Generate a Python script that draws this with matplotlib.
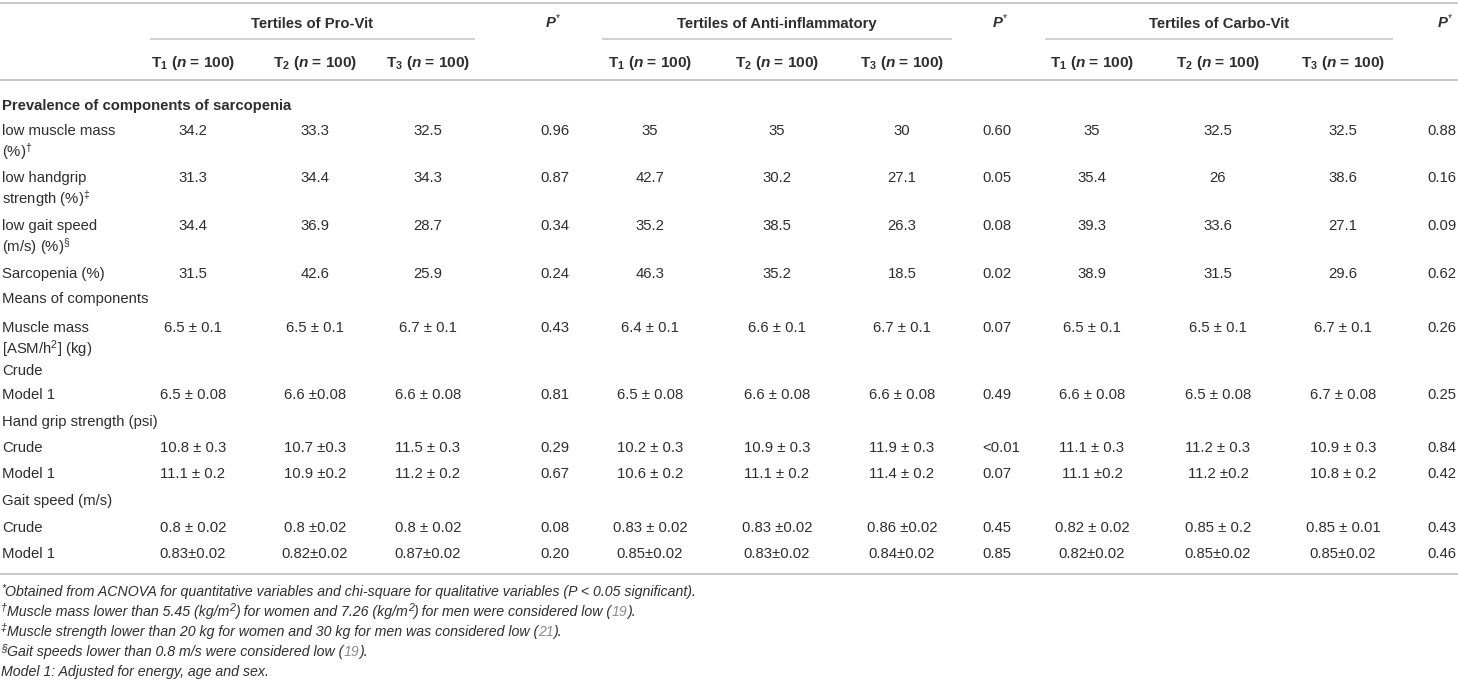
import matplotlib
matplotlib.use("Agg")
import matplotlib.pyplot as plt

plt.rcParams['font.family'] = ['Liberation Sans', 'DejaVu Sans']
plt.rcParams['mathtext.fontset'] = 'custom'
plt.rcParams['mathtext.rm'] = 'Liberation Sans'
plt.rcParams['mathtext.it'] = 'Liberation Sans:italic:bold'
plt.rcParams['mathtext.bf'] = 'Liberation Sans:bold'

# Table content
groups = ["Tertiles of Pro-Vit", "Tertiles of Anti-inflammatory", "Tertiles of Carbo-Vit"]
tertiles = ["1", "2", "3"]
groupSize = 100

rowLabels = [
    ["Prevalence of components of sarcopenia"],
    ["low muscle mass", r"(%)$^{\dagger}$"],
    ["low handgrip", r"strength (%)$^{\ddagger}$"],
    ["low gait speed", r"(m/s) (%)$^{\S}$"],
    ["Sarcopenia (%)"],
    ["Means of components"],
    ["Muscle mass", r"[ASM/h$^{2}$] (kg)", "Crude"],
    ["Model 1"],
    ["Hand grip strength (psi)"],
    ["Crude"],
    ["Model 1"],
    ["Gait speed (m/s)"],
    ["Crude"],
    ["Model 1"],
]
boldRows = [0]

proVit = [
    None,
    ["34.2", "33.3", "32.5"],
    ["31.3", "34.4", "34.3"],
    ["34.4", "36.9", "28.7"],
    ["31.5", "42.6", "25.9"],
    None,
    ["6.5 ± 0.1", "6.5 ± 0.1", "6.7 ± 0.1"],
    ["6.5 ± 0.08", "6.6 ±0.08", "6.6 ± 0.08"],
    None,
    ["10.8 ± 0.3", "10.7 ±0.3", "11.5 ± 0.3"],
    ["11.1 ± 0.2", "10.9 ±0.2", "11.2 ± 0.2"],
    None,
    ["0.8 ± 0.02", "0.8 ±0.02", "0.8 ± 0.02"],
    ["0.83±0.02", "0.82±0.02", "0.87±0.02"],
]
proVitP = [None, "0.96", "0.87", "0.34", "0.24", None, "0.43", "0.81", None, "0.29", "0.67", None, "0.08", "0.20"]

antiInflammatory = [
    None,
    ["35", "35", "30"],
    ["42.7", "30.2", "27.1"],
    ["35.2", "38.5", "26.3"],
    ["46.3", "35.2", "18.5"],
    None,
    ["6.4 ± 0.1", "6.6 ± 0.1", "6.7 ± 0.1"],
    ["6.5 ± 0.08", "6.6 ± 0.08", "6.6 ± 0.08"],
    None,
    ["10.2 ± 0.3", "10.9 ± 0.3", "11.9 ± 0.3"],
    ["10.6 ± 0.2", "11.1 ± 0.2", "11.4 ± 0.2"],
    None,
    ["0.83 ± 0.02", "0.83 ±0.02", "0.86 ±0.02"],
    ["0.85±0.02", "0.83±0.02", "0.84±0.02"],
]
antiInflammatoryP = [None, "0.60", "0.05", "0.08", "0.02", None, "0.07", "0.49", None, "<0.01", "0.07", None, "0.45", "0.85"]

carboVit = [
    None,
    ["35", "32.5", "32.5"],
    ["35.4", "26", "38.6"],
    ["39.3", "33.6", "27.1"],
    ["38.9", "31.5", "29.6"],
    None,
    ["6.5 ± 0.1", "6.5 ± 0.1", "6.7 ± 0.1"],
    ["6.6 ± 0.08", "6.5 ± 0.08", "6.7 ± 0.08"],
    None,
    ["11.1 ± 0.3", "11.2 ± 0.3", "10.9 ± 0.3"],
    ["11.1 ±0.2", "11.2 ±0.2", "10.8 ± 0.2"],
    None,
    ["0.82 ± 0.02", "0.85 ± 0.2", "0.85 ± 0.01"],
    ["0.82±0.02", "0.85±0.02", "0.85±0.02"],
]
carboVitP = [None, "0.88", "0.16", "0.09", "0.62", None, "0.26", "0.25", None, "0.84", "0.42", None, "0.43", "0.46"]

footnotes = [
    [("*", "sup"), ("Obtained from ACNOVA for quantitative variables and chi-square for qualitative variables (P < 0.05 significant).", "it")],
    [("†", "sup"), ("Muscle mass lower than 5.45 (kg/m", "it"), ("2", "sup"), (") for women and 7.26 (kg/m", "it"),
     ("2", "sup"), (") for men were considered low (", "it"), ("19", "ref"), (").", "it")],
    [("‡", "sup"), ("Muscle strength lower than 20 kg for women and 30 kg for men was considered low (", "it"), ("21", "ref"), (").", "it")],
    [("§", "sup"), ("Gait speeds lower than 0.8 m/s were considered low (", "it"), ("19", "ref"), (").", "it")],
    [("Model 1: Adjusted for energy, age and sex.", "it")],
]

# Layout (pixel coordinates)
W, H = 1458, 682
textColor = "#2e2e2e"
ruleColor = "#c4c4c4"
fontSize = 10.7
noteSize = 10.2

tertileX = [[193, 315, 428], [650, 777, 902], [1092, 1218, 1343]]
pValueX = [540, 982, 1427]
pHeaderX = [553, 1000, 1445]
groupSpans = [(150, 475), (602, 952), (1045, 1393)]
rowY = [105, 130, 177, 225, 273, 298, 327, 394, 421, 447, 473, 500, 527, 553]
lineStep = 21.5
baselineShift = 5
noteY = [592, 612, 632, 652, 672]

fig = plt.figure(figsize=(W / 100, H / 100), dpi=100)
ax = fig.add_axes([0, 0, 1, 1])
ax.set_xlim(0, W)
ax.set_ylim(H, 0)
ax.axis("off")
renderer = fig.canvas.get_renderer()

# Horizontal rules
for yLine in [3, 80, 574]:
    ax.plot([0, W], [yLine, yLine], color=ruleColor, lw=1.3, solid_capstyle="butt")
for x0, x1 in groupSpans:
    ax.plot([x0, x1], [39, 39], color=ruleColor, lw=1.1, solid_capstyle="butt")

# Group headers
for g, name in enumerate(groups):
    cx = (groupSpans[g][0] + groupSpans[g][1]) / 2
    ax.text(cx, 23 + baselineShift, name, ha="center", va="baseline",
            fontsize=fontSize, fontweight="bold", color=textColor)
    ax.text(pHeaderX[g], 23 + baselineShift, r"$\mathit{P}^{*}$", ha="center", va="baseline",
            fontsize=fontSize, color=textColor)
    for t, tName in enumerate(tertiles):
        label = r"$\mathbf{T_{%s}}$ ($\mathit{n}$ = %d)" % (tName, groupSize)
        ax.text(tertileX[g][t], 62 + baselineShift, label, ha="center", va="baseline",
                fontsize=fontSize + 0.4, fontweight="bold", color=textColor)

# Body rows
allValues = [proVit, antiInflammatory, carboVit]
allP = [proVitP, antiInflammatoryP, carboVitP]
for r, lines in enumerate(rowLabels):
    for k, line in enumerate(lines):
        ax.text(2, rowY[r] + k * lineStep + baselineShift, line, ha="left", va="baseline",
                fontsize=fontSize, color=textColor,
                fontweight="bold" if r in boldRows else "normal")
    for g in range(3):
        vals = allValues[g][r]
        if vals is None:
            continue
        for t, v in enumerate(vals):
            ax.text(tertileX[g][t], rowY[r] + baselineShift, v, ha="center", va="baseline",
                    fontsize=fontSize, color=textColor)
        ax.text(pValueX[g], rowY[r] + baselineShift, allP[g][r], ha="left", va="baseline",
                fontsize=fontSize, color=textColor)

# Footnotes drawn as runs of differently styled text
def drawRuns(x, y, runs):
    for text, kind in runs:
        style = dict(fontsize=noteSize, style="italic", color=textColor, va="baseline", ha="left")
        yy = y
        if kind == "sup":
            style["fontsize"] = noteSize * 0.75
            yy = y - 5
        elif kind == "ref":
            style["color"] = "#8c8c8c"
        t = ax.text(x, yy, text, **style)
        x += t.get_window_extent(renderer).width

for y, runs in zip(noteY, footnotes):
    drawRuns(1, y + 4, runs)

fig.savefig("out.png", dpi=100)
